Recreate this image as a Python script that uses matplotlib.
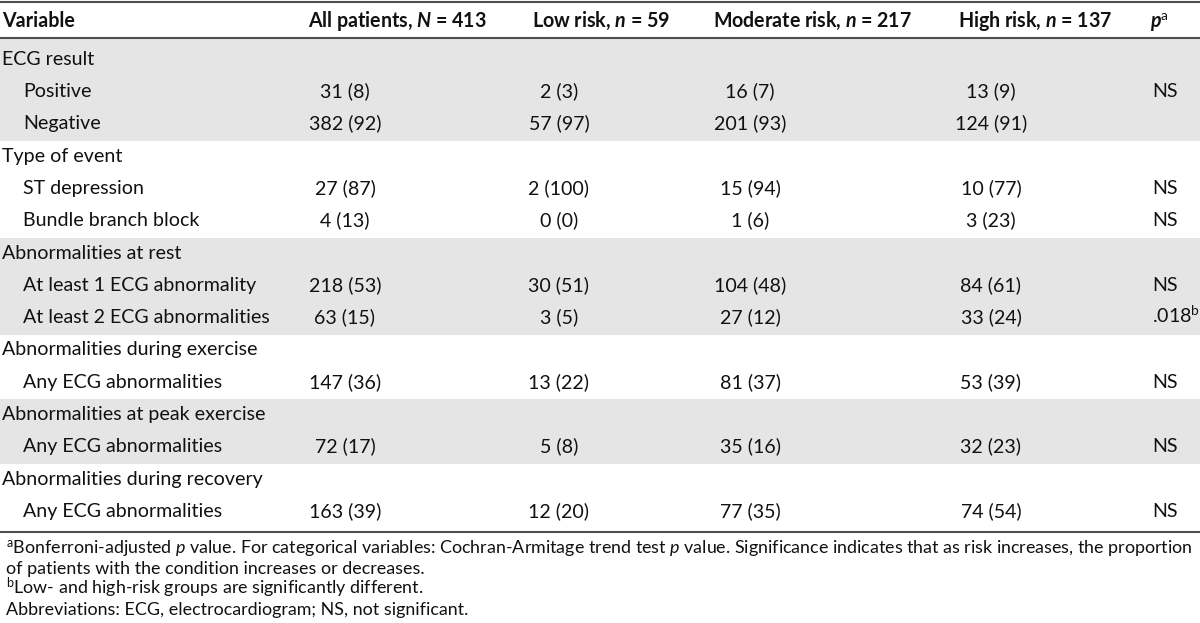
import matplotlib
matplotlib.use("Agg")
import matplotlib.pyplot as plt
from matplotlib.patches import Rectangle

# table content
groups = ["ECG result", "Type of event", "Abnormalities at rest",
          "Abnormalities during exercise", "Abnormalities at peak exercise",
          "Abnormalities during recovery"]
items = [["Positive", "Negative"],
         ["ST depression", "Bundle branch block"],
         ["At least 1 ECG abnormality", "At least 2 ECG abnormalities"],
         ["Any ECG abnormalities"],
         ["Any ECG abnormalities"],
         ["Any ECG abnormalities"]]
all_patients = ["31 (8)", "382 (92)", "27 (87)", "4 (13)", "218 (53)", "63 (15)",
                "147 (36)", "72 (17)", "163 (39)"]
low_risk = ["2 (3)", "57 (97)", "2 (100)", "0 (0)", "30 (51)", "3 (5)",
            "13 (22)", "5 (8)", "12 (20)"]
moderate_risk = ["16 (7)", "201 (93)", "15 (94)", "1 (6)", "104 (48)", "27 (12)",
                 "81 (37)", "35 (16)", "77 (35)"]
high_risk = ["13 (9)", "124 (91)", "10 (77)", "3 (23)", "84 (61)", "33 (24)",
             "53 (39)", "32 (23)", "74 (54)"]
p_values = ["NS", "", "NS", "NS", "NS", ".018$^{\\mathrm{b}}$", "NS", "NS", "NS"]

headers = ["Variable", "All patients, $\\mathbfit{N}$ = 413", "Low risk, $\\mathbfit{n}$ = 59",
           "Moderate risk, $\\mathbfit{n}$ = 217", "High risk, $\\mathbfit{n}$ = 137",
           "$\\mathbfit{p}^{\\mathrm{a}}$"]
footnotes = ["$^{\\mathrm{a}}$Bonferroni-adjusted $p$ value. For categorical variables: "
             "Cochran-Armitage trend test $p$ value. Significance indicates that as risk "
             "increases, the proportion",
             "of patients with the condition increases or decreases.",
             "$^{\\mathrm{b}}$Low- and high-risk groups are significantly different.",
             "Abbreviations: ECG, electrocardiogram; NS, not significant."]

FONT = "Lato"
plt.rcParams["font.family"] = FONT
plt.rcParams["mathtext.fontset"] = "custom"
plt.rcParams["mathtext.rm"] = FONT
plt.rcParams["mathtext.it"] = FONT + ":italic"
plt.rcParams["mathtext.bf"] = FONT + ":bold"
plt.rcParams["mathtext.bfit"] = FONT + ":bold:italic"

W, H = 1200, 623
fig = plt.figure(figsize=(W / 100, H / 100), dpi=100)
ax = fig.add_axes([0, 0, 1, 1])
ax.set_xlim(0, W)
ax.set_ylim(H, 0)
ax.axis("off")
renderer = fig.canvas.get_renderer()


def text_width(s, size, **kw):
    t = ax.text(0, 0, s, fontsize=size, **kw)
    w = t.get_window_extent(renderer).width
    t.remove()
    return w


# fit font sizes to the reference text widths
fs = 10 * 246 / text_width("At least 2 ECG abnormalities", 10)
fs_note = 10 * 1186 / text_width(footnotes[0], 10)

line_col = "#4d4d4d"
shade = "#e5e5e5"
txt_col = "#111111"

top, head_line, bottom = 2, 38, 532
n_rows = len(groups) + sum(len(i) for i in items)
first_c, last_c = 58, 510
step = (last_c - first_c) / (n_rows - 1)
centers = [first_c + i * step for i in range(n_rows)]
cap = 6.8

x_var, x_sub = 2, 23
col_x = [345, 559, 750, 991]
x_p = 1152
head_x = [2, 308, 532, 713, 958, 1150]

# shading of alternate groups
r = 0
for g, its in enumerate(items):
    n = len(its) + 1
    y0 = head_line if r == 0 else centers[r] - 14
    y1 = bottom if r + n >= n_rows else centers[r + n] - 14
    if g % 2 == 0:
        ax.add_patch(Rectangle((0, y0), W, y1 - y0, facecolor=shade,
                               edgecolor="none", zorder=0))
    r += n

for yl in (top, head_line, bottom):
    ax.plot([0, W], [yl, yl], color=line_col, lw=1.5, solid_capstyle="butt")

for hx, h in zip(head_x, headers):
    ax.text(hx, 20 + cap, h, fontsize=fs, fontweight="bold", ha="left",
            va="baseline", color=txt_col)

r = 0
k = 0
cols = [all_patients, low_risk, moderate_risk, high_risk]
for g, its in enumerate(items):
    ax.text(x_var, centers[r] + cap, groups[g], fontsize=fs, va="baseline", color=txt_col)
    r += 1
    for it in its:
        y = centers[r] + cap
        ax.text(x_sub, y, it, fontsize=fs, va="baseline", color=txt_col)
        for cx, col in zip(col_x, cols):
            ax.text(cx, y, col[k], fontsize=fs, ha="center", va="baseline", color=txt_col)
        if p_values[k]:
            ax.text(x_p, y, p_values[k], fontsize=fs, ha="left", va="baseline", color=txt_col)
        r += 1
        k += 1

for i, note in enumerate(footnotes):
    ax.text(6, 547 + i * 20.3 + cap, note, fontsize=fs_note, va="baseline", color=txt_col)

fig.savefig("out.png", dpi=100)
